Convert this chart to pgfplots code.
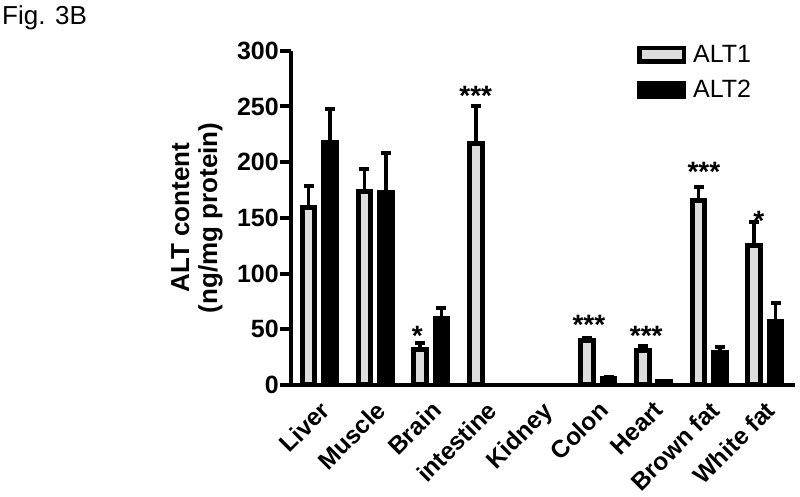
\documentclass[border=0pt]{standalone}
\usepackage{fontspec}
\setmainfont{Liberation Sans}
\usepackage{pgfplots}
\pgfplotsset{compat=1.18}
\definecolor{lgray}{RGB}{221,221,221}

\begin{document}
\begin{tikzpicture}
\path[use as bounding box] (0pt,0pt) rectangle (800pt,497pt);
\node[anchor=north west,inner sep=0pt] at (2pt,492pt) {\fontsize{26}{30}\selectfont Fig. 3B};
\begin{axis}[
  at={(291pt,112pt)}, anchor=south west,
  scale only axis, width=504pt, height=334.3pt,
  xmin=-0.51, xmax=8.54, ymin=0, ymax=300,
  axis x line*=bottom, axis y line*=left,
  axis line style={line width=4pt, -},
  ytick={0,50,100,150,200,250,300},
  xtick={0,...,8},
  xticklabels={Liver,Muscle,Brain,intestine,Kidney,Colon,Heart,Brown fat,White fat},
  xtick style={draw=none},
  ytick style={line width=4pt, black},
  major tick length=11pt, tick align=outside,
  /pgf/number format/assume math mode=true,
  yticklabel style={font=\fontsize{25}{28}\selectfont\bfseries, inner sep=1pt},
  xticklabel style={font=\fontsize{24.5}{28}\selectfont\bfseries, rotate=45, anchor=north east, inner sep=1pt, xshift=-2pt, yshift=-1pt},
  ylabel={ALT content\\(ng/mg protein)},
  ylabel style={font=\fontsize{26}{28}\selectfont\bfseries, align=center, at={(axis description cs:-0.1865,0.5)}, anchor=center},
  legend style={at={(axis description cs:0.6865,1.017)}, anchor=north west, draw=none, fill=none, font=\fontsize{25}{30}\selectfont, row sep=16.5pt, inner sep=0pt, nodes={inner sep=0pt}, /tikz/every odd column/.append style={column sep=7pt}},
  legend cell align=left,
  legend image code/.code={\draw[#1, line width=4.5pt] (0pt,-6.75pt) rectangle (44.5pt,6.75pt);},
  clip=false,
]
\addplot[ybar, bar width=12.5pt, bar shift=0pt, fill=lgray, draw=black, line width=5pt]
coordinates {(-0.192,159) (0.808,174) (1.808,32) (2.808,217) (4.808,40) (5.808,31) (6.808,166) (7.808,125)};
\addlegendentry{ALT1}
\addplot[ybar, bar width=12.5pt, bar shift=0pt, fill=black, draw=black, line width=5pt]
coordinates {(0.192,218) (1.192,173) (2.192,60) (5.192,6) (6.192,3) (7.192,29) (8.192,57)};
\addlegendentry{ALT2}
% error bars (upper only): vertical lines
\addplot[draw=none, mark=none, forget plot,
  error bars/.cd, y dir=plus, y explicit, error mark=none,
  error bar style={line width=3.5pt, black, solid}]
coordinates {(-0.192,159) +- (0,20) (0.808,174) +- (0,20) (1.808,32) +- (0,6) (2.808,217) +- (0,33) (4.808,40) +- (0,2) (5.808,31) +- (0,4) (6.808,166) +- (0,12) (7.808,125) +- (0,21)};
\addplot[draw=none, mark=none, forget plot,
  error bars/.cd, y dir=plus, y explicit, error mark=none,
  error bar style={line width=3.5pt, black, solid}]
coordinates {(0.192,218) +- (0,30) (1.192,173) +- (0,35) (2.192,60) +- (0,9) (5.192,6) +- (0,1) (6.192,3) +- (0,0.5) (7.192,29) +- (0,5) (8.192,57) +- (0,17)};
% error bar caps at mean + SEM
\addplot[only marks, forget plot, mark=-, mark size=5pt, mark options={line width=4pt, black, solid}]
coordinates {(-0.192,179) (0.808,194) (1.808,38) (2.808,250) (4.808,42) (5.808,35) (6.808,178) (7.808,146)};
\addplot[only marks, forget plot, mark=-, mark size=5pt, mark options={line width=4pt, black, solid}]
coordinates {(0.192,248) (1.192,208) (2.192,69) (5.192,7) (6.192,3.5) (7.192,34) (8.192,74)};
\node[anchor=base, yshift=-16pt, font=\fontsize{28}{30}\selectfont\bfseries] at (axis cs:1.76,49.4) {*};
\node[anchor=base, yshift=-16pt, font=\fontsize{28}{30}\selectfont\bfseries] at (axis cs:2.808,264.8) {***};
\node[anchor=base, yshift=-16pt, font=\fontsize{28}{30}\selectfont\bfseries] at (axis cs:4.84,60.1) {***};
\node[anchor=base, yshift=-16pt, font=\fontsize{28}{30}\selectfont\bfseries] at (axis cs:5.87,49.4) {***};
\node[anchor=base, yshift=-16pt, font=\fontsize{28}{30}\selectfont\bfseries] at (axis cs:6.905,196.6) {***};
\node[anchor=base, yshift=-16pt, font=\fontsize{28}{30}\selectfont\bfseries] at (axis cs:7.89,153) {*};
\end{axis}
\end{tikzpicture}
\end{document}
